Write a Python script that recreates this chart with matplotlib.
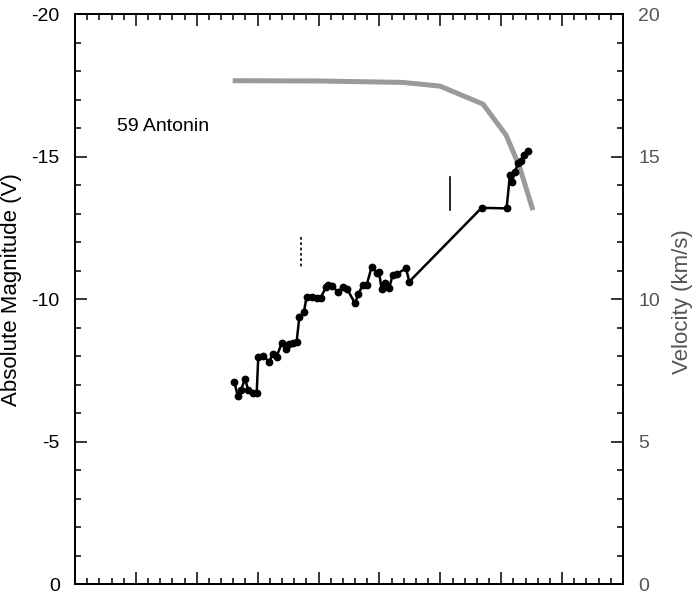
import numpy as np
import matplotlib
matplotlib.use("Agg")
import matplotlib.pyplot as plt
from matplotlib.ticker import MultipleLocator, NullFormatter

plt.rcParams['font.family'] = ['Liberation Sans', 'DejaVu Sans']
plt.rcParams['axes.unicode_minus'] = False

# magnitude track (left axis)
mag_x = [13.08, 13.36, 13.63, 13.96, 14.23, 14.59, 14.92, 15.05, 15.46, 15.95,
         16.23, 16.56, 16.97, 17.32, 17.59, 17.92, 18.20, 18.42, 18.80, 19.02,
         19.43, 19.84, 20.17, 20.61, 20.80, 21.08, 21.57, 22.03, 22.36, 22.99,
         23.26, 23.62, 23.95, 24.36, 24.77, 24.96, 25.18, 25.45, 25.80, 26.08,
         26.41, 27.18, 27.45, 33.39, 35.44, 35.71, 35.90, 36.12, 36.40, 36.59,
         36.86, 37.22]
mag_y = [-7.10, -6.61, -6.81, -7.19, -6.81, -6.71, -6.69, -7.95, -8.00, -7.80,
         -8.07, -7.98, -8.45, -8.25, -8.42, -8.47, -8.50, -9.36, -9.55, -10.08,
         -10.06, -10.05, -10.05, -10.41, -10.49, -10.47, -10.26, -10.41, -10.34, -9.85,
         -10.16, -10.49, -10.49, -11.13, -10.92, -10.96, -10.34, -10.55, -10.38, -10.84,
         -10.87, -11.08, -10.61, -13.20, -13.18, -14.35, -14.12, -14.47, -14.78, -14.85,
         -15.05, -15.20]

# velocity curve (right axis)
vel_x = [12.95, 20.1, 26.9, 29.97, 33.5, 35.4, 36.5, 37.6]
vel_y = [17.66, 17.65, 17.6, 17.47, 16.84, 15.75, 14.64, 13.12]

# marker bars
dotted_x = 18.55
dotted_y = [-12.18, -11.12]
solid_x = 30.79
solid_y = [-14.27, -13.12]

label = "59 Antonin"

fig = plt.figure(figsize=(6.98, 5.99), dpi=100)
ax = fig.add_axes([0.1074, 0.025, 0.7852, 0.9516])
ax2 = ax.twinx()

ax2.plot(vel_x, vel_y, color='#9a9a9a', lw=3.6, solid_capstyle='butt', zorder=1)
ax.plot(mag_x, mag_y, color='black', lw=1.8, marker='o', ms=4.6, zorder=3)
ax.plot([dotted_x, dotted_x], dotted_y, color='black', lw=1.2, ls=(0, (1.6, 1.6)))
ax.plot([solid_x, solid_x], solid_y, color='black', lw=1.2)
ax.text(3.45, -16.04, label, fontsize=14, va='center', ha='left')

ax.set_zorder(ax2.get_zorder() + 1)
ax.patch.set_visible(False)

ax.set_xlim(0, 45)
ax.set_ylim(0, -20)
ax2.set_ylim(0, 20)

ax.xaxis.set_major_locator(MultipleLocator(5))
ax.xaxis.set_minor_locator(MultipleLocator(1))
ax.xaxis.set_major_formatter(NullFormatter())
ax.yaxis.set_major_locator(MultipleLocator(5))
ax.yaxis.set_minor_locator(MultipleLocator(1))
ax2.yaxis.set_major_locator(MultipleLocator(5))
ax2.yaxis.set_minor_locator(MultipleLocator(1))

ax.tick_params(axis='x', which='both', direction='in', top=True, bottom=True)
ax.tick_params(axis='y', which='both', direction='in', left=True, right=False)
ax.tick_params(which='major', length=8.5, width=1.1, labelsize=14, pad=11)
ax.tick_params(which='minor', length=4.3, width=1.1)
ax2.tick_params(axis='y', which='both', direction='in', right=True)
ax2.tick_params(which='major', length=8.5, width=1.1, labelsize=14, pad=11,
                labelcolor='#555555')
ax2.tick_params(which='minor', length=4.3, width=1.1)

for a in (ax, ax2):
    for s in a.spines.values():
        s.set_linewidth(1.3)

ax.set_ylabel("Absolute Magnitude (V)", fontsize=16)
ax.yaxis.set_label_coords(-0.097, 0.517)
ax2.set_ylabel("Velocity (km/s)", fontsize=16, color='#555555')
ax2.yaxis.set_label_coords(1.089, 0.495)

fig.savefig("out.png", dpi=100)
